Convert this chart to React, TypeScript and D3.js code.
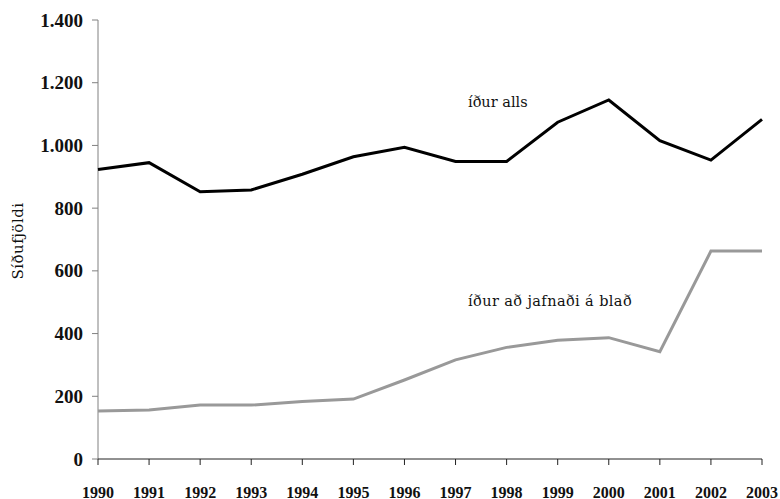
import React from "react";
import * as d3 from "d3";

const years = [1990, 1991, 1992, 1993, 1994, 1995, 1996, 1997, 1998, 1999, 2000, 2001, 2002, 2003];
const totalPages = [923, 945, 852, 858, 908, 964, 994, 949, 949, 1074, 1145, 1015, 953, 1083];
const avgPages = [153, 156, 172, 172, 183, 191, 252, 316, 356, 379, 387, 342, 663, 663];
const yTicks = [0, 200, 400, 600, 800, 1000, 1200, 1400];
const labelTotal = "íður alls";
const labelAvg = "íður að jafnaði á blað";
const yTitle = "Síðufjöldi";

const fmt = (v: number) => d3.format(",")(v).replace(/,/g, ".");

export default function App() {
  const W = 780, H = 499;
  const x = d3.scaleLinear().domain([1990, 2003]).range([98, 762]);
  const y = d3.scaleLinear().domain([0, 1400]).range([459, 20]);
  const line = d3.line<number>().x((_, i) => x(years[i])).y((d) => y(d));
  const tickFont = "'Liberation Serif', 'Times New Roman', serif";
  const labelFont = "'DejaVu Serif', Georgia, serif";
  return (
    <svg width={W} height={H} style={{ position: "absolute", left: 0, top: 0 }}>
      <rect width={W} height={H} fill="#fff" />
      {/* y axis */}
      <line x1={x(1990)} x2={x(1990)} y1={y(1400)} y2={y(0)} stroke="#808080" strokeWidth={1} />
      {yTicks.map((t) => (
        <g key={t}>
          <line x1={x(1990) - 6} x2={x(1990)} y1={y(t)} y2={y(t)} stroke="#808080" />
          <text x={83} y={y(t) + 6.5} textAnchor="end" fontFamily={tickFont} fontWeight="bold" fontSize={19} fill="#111">
            {fmt(t)}
          </text>
        </g>
      ))}
      {/* x axis */}
      <line x1={x(1990)} x2={x(2003)} y1={y(0)} y2={y(0)} stroke="#222" strokeWidth={1} />
      {years.map((yr) => (
        <g key={yr}>
          <line x1={x(yr)} x2={x(yr)} y1={y(0)} y2={y(0) + 6} stroke="#222" />
          <text x={x(yr)} y={497.5} textAnchor="middle" fontFamily={tickFont} fontWeight="bold" fontSize={16} fill="#111">
            {yr}
          </text>
        </g>
      ))}
      <text
        transform={`translate(23,241) rotate(-90)`}
        textAnchor="middle"
        fontFamily={labelFont}
        fontSize={15}
        letterSpacing={0.5}
        fill="#111"
      >
        {yTitle}
      </text>
      <path d={line(avgPages) || ""} fill="none" stroke="#999" strokeWidth={3} strokeLinejoin="miter" />
      <path d={line(totalPages) || ""} fill="none" stroke="#000" strokeWidth={3} strokeLinejoin="miter" />
      <text x={468} y={107} fontFamily={labelFont} fontSize={14.5} fill="#111">
        {labelTotal}
      </text>
      <text x={468} y={306} fontFamily={labelFont} fontSize={14.5} letterSpacing={0.4} fill="#111">
        {labelAvg}
      </text>
    </svg>
  );
}
